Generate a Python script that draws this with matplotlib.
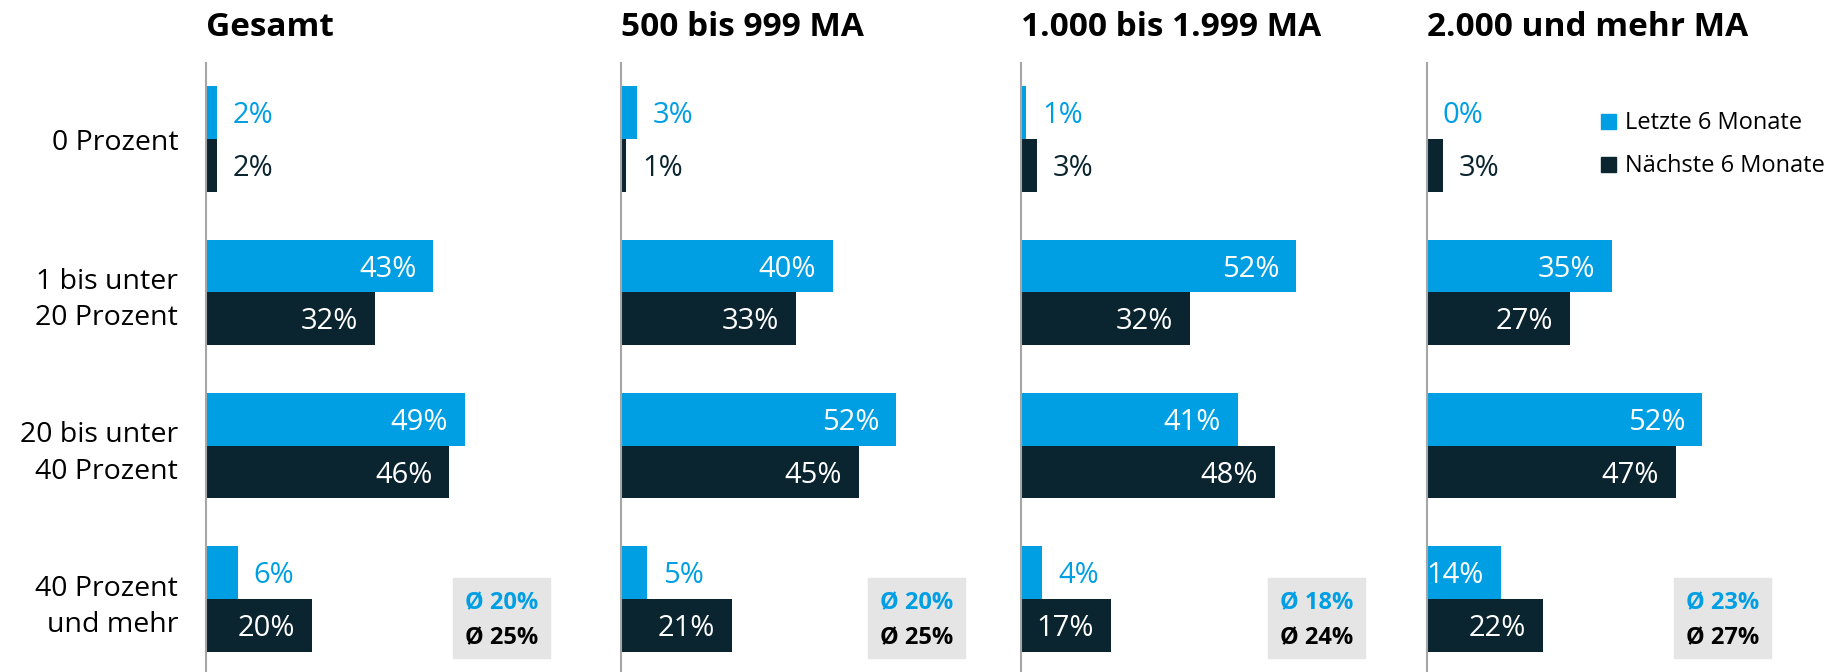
import matplotlib
matplotlib.use("Agg")
import matplotlib.pyplot as plt
from matplotlib.patches import Rectangle, Patch

plt.rcParams['font.family'] = ['Open Sans', 'DejaVu Sans']

# Daten
kategorien = ['0 Prozent', '1 bis unter\n20 Prozent', '20 bis unter\n40 Prozent', '40 Prozent\nund mehr']
gruppen = ['Gesamt', '500 bis 999 MA', '1.000 bis 1.999 MA', '2.000 und mehr MA']
letzte = [[2, 43, 49, 6], [3, 40, 52, 5], [1, 52, 41, 4], [0, 35, 52, 14]]
naechste = [[2, 32, 46, 20], [1, 33, 45, 21], [3, 32, 48, 17], [3, 27, 47, 22]]
avg_letzte = [20, 20, 18, 23]
avg_naechste = [25, 25, 24, 27]

BLAU = '#009fe3'
DUNKEL = '#0b2530'

W, H = 1849, 672
fig = plt.figure(figsize=(W / 100, H / 100), dpi=100)

px_pro_prozent = 5.29
xmax = 72
achsen_links = [206, 621, 1021, 1427]
top_px = 63
bar_h = 0.343

for i, gruppe in enumerate(gruppen):
    links = achsen_links[i]
    breite = xmax * px_pro_prozent
    ax = fig.add_axes([links / W, 0, breite / W, (H - top_px) / H])
    y = list(range(len(kategorien)))
    y_l = [v - bar_h / 2 for v in y]
    y_n = [v + bar_h / 2 for v in y]
    ax.barh(y_l, letzte[i], height=bar_h, color=BLAU)
    ax.barh(y_n, naechste[i], height=bar_h, color=DUNKEL)

    for werte, ys, farbe in [(letzte[i], y_l, BLAU), (naechste[i], y_n, DUNKEL)]:
        for w, yy in zip(werte, ys):
            if w >= 10:
                ax.text(w - 3.2, yy + 0.02, f'{w}%', color='white', ha='right', va='center', fontsize=21)
            else:
                ax.text(w + 3.0, yy + 0.02, f'{w}%', color=farbe, ha='left', va='center', fontsize=21)

    ax.set_xlim(0, xmax)
    ax.set_ylim(3.476, -0.496)
    for s in ['top', 'right', 'bottom']:
        ax.spines[s].set_visible(False)
    ax.spines['left'].set_color('#a6a6a6')
    ax.spines['left'].set_linewidth(1.5)
    ax.set_xticks([])
    if i == 0:
        ax.set_yticks(y)
        ax.set_yticklabels(kategorien, fontsize=20.5, linespacing=1.4)
        ax.tick_params(axis='y', length=0, pad=20)
        for lbl in ax.get_yticklabels():
            lbl.set_y(lbl.get_position()[1])
    else:
        ax.set_yticks([])

    # Durchschnitt-Box
    bx = 46.6
    ax.add_patch(Rectangle((bx, 2.864), 18.5, 0.522, color='#e5e5e5', zorder=0))
    ax.text(bx + 9.25, 3.03, f'Ø {avg_letzte[i]}%', color=BLAU, fontweight='bold',
            ha='center', va='center', fontsize=17)
    ax.text(bx + 9.25, 3.255, f'Ø {avg_naechste[i]}%', color='black', fontweight='bold',
            ha='center', va='center', fontsize=17)

    fig.text(links / W, 1 - 27 / H, gruppe, fontsize=24, fontweight='bold',
             ha='left', va='center')

handles = [Patch(color=BLAU, label='Letzte 6 Monate'), Patch(color=DUNKEL, label='Nächste 6 Monate')]
fig.legend(handles=handles, loc='upper left', bbox_to_anchor=(1592 / W, 1 - 102 / H),
           frameon=False, fontsize=17, handlelength=0.6, handleheight=0.6,
           handletextpad=0.4, labelspacing=0.8, borderaxespad=0)

fig.savefig('out.png', dpi=100)
